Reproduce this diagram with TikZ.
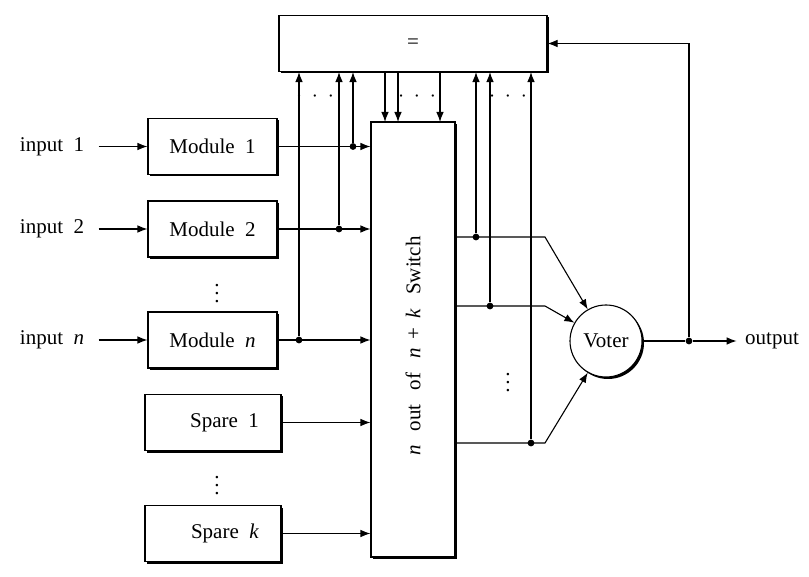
\documentclass[tikz,border=0pt]{standalone}
\usepackage{fontspec}
\setmainfont{Liberation Serif}
\usetikzlibrary{arrows.meta,shadows}

\begin{document}
\begin{tikzpicture}[
every node/.style={font=\fontsize{10.5}{12}\selectfont},
x=0.5pt,
y=-0.5pt,
line width=0.55pt,
>={Latex[length=5pt,width=3.8pt]},
shade/.style={drop shadow={shadow xshift=1pt,shadow yshift=-1pt,opacity=1,fill=black}},
unit/.style={draw,fill=white,shade,minimum width=64.5pt,minimum height=28pt},
spare/.style={unit,minimum width=68pt,text width=46pt,align=right},
inlab/.style={inner xsep=7pt},
junc/.style={circle,fill,inner sep=0pt,minimum size=3.4pt}
]
\useasboundingbox (0,0) rectangle (809,577);

\node[unit,minimum width=134pt] (cmp) at (413,43.5) {=};

\node[inlab] (in1) at (52,146.5) {input\enspace 1};
\node[inlab] (in2) at (52,229) {input\enspace 2};
\node[inlab] (inn) at (52,340) {input\enspace \textit{n}};

\node[unit] (m1) at (212.5,146.5) {Module\enspace 1};
\node[unit] (m2) at (212.5,229) {Module\enspace 2};
\node[unit] (mn) at (212.5,340) {Module\enspace \textit{n}};
\node[spare] (s1) at (213,422.5) {Spare\enspace 1};
\node[spare] (sk) at (213,533.5) {Spare\enspace \textit{k}};

\node[draw,fill=white,shade,minimum width=42pt,minimum height=217.5pt] (sw) at (413,339.5) {};
\node[rotate=90] (swl) at (413,346) {\textit{n}\hspace{7pt}out\hspace{7pt}of\hspace{7pt}\textit{n}\hspace{4.5pt}+\hspace{4.5pt}\textit{k}\hspace{7pt}Switch};

\node[circle,draw,fill=white,shade,minimum size=36pt,inner sep=0pt] (vot) at (606,341) {Voter};
\node[inlab,inner xsep=4pt] (out) at (772,341) {output};

\node (vd1) at (217,288) {$\vdots$};
\node (vd2) at (217,480) {$\vdots$};
\node (vd3) at (508,377) {$\vdots$};
\node (hd1) at (315,97) {$\cdot\hspace{2.5pt}\cdot\hspace{2.5pt}\cdot$};
\node (hd2) at (417,97) {$\cdot\hspace{2.5pt}\cdot\hspace{2.5pt}\cdot$};
\node (hd3) at (508,97) {$\cdot\hspace{2.5pt}\cdot\hspace{2.5pt}\cdot$};

\node[junc] (j1) at (353,146.5) {};
\node[junc] (j2) at (339,229) {};
\node[junc] (jn) at (299,340) {};
\node[junc] (o1) at (476,237) {};
\node[junc] (o2) at (490,306) {};
\node[junc] (o3) at (531,443) {};
\node[junc] (fb) at (689,341) {};
\coordinate (b1) at (545,237);
\coordinate (b2) at (545,306);
\coordinate (b3) at (545,443);
\coordinate (t1) at (385,122);
\coordinate (t2) at (398,122);
\coordinate (t3) at (440,122);

\draw[->] (in1.east) -- (m1.west);
\draw[->] (in2.east) -- (m2.west);
\draw[->] (inn.east) -- (mn.west);

\draw[->] (m1.east) -- (m1.east -| sw.west);
\draw[->] (m2.east) -- (m2.east -| sw.west);
\draw[->] (mn.east) -- (mn.east -| sw.west);
\draw[->] (s1.east) -- (s1.east -| sw.west);
\draw[->] (sk.east) -- (sk.east -| sw.west);

\draw[->] (j1) -- (j1 |- cmp.south);
\draw[->] (j2) -- (j2 |- cmp.south);
\draw[->] (jn) -- (jn |- cmp.south);

\draw[->] (t1 |- cmp.south) -- (t1);
\draw[->] (t2 |- cmp.south) -- (t2);
\draw[->] (t3 |- cmp.south) -- (t3);

\draw[->] (sw.east |- o1) -- (b1) -- (vot.120);
\draw[->] (sw.east |- o2) -- (b2) -- (vot.150);
\draw[->] (sw.east |- o3) -- (b3) -- (vot.240);
\draw[->] (o1) -- (o1 |- cmp.south);
\draw[->] (o2) -- (o2 |- cmp.south);
\draw[->] (o3) -- (o3 |- cmp.south);

\draw (vot.east) -- (fb);
\draw[->] (fb) -- (out.west);
\draw[->] (fb) |- (cmp.east);
\end{tikzpicture}
\end{document}
